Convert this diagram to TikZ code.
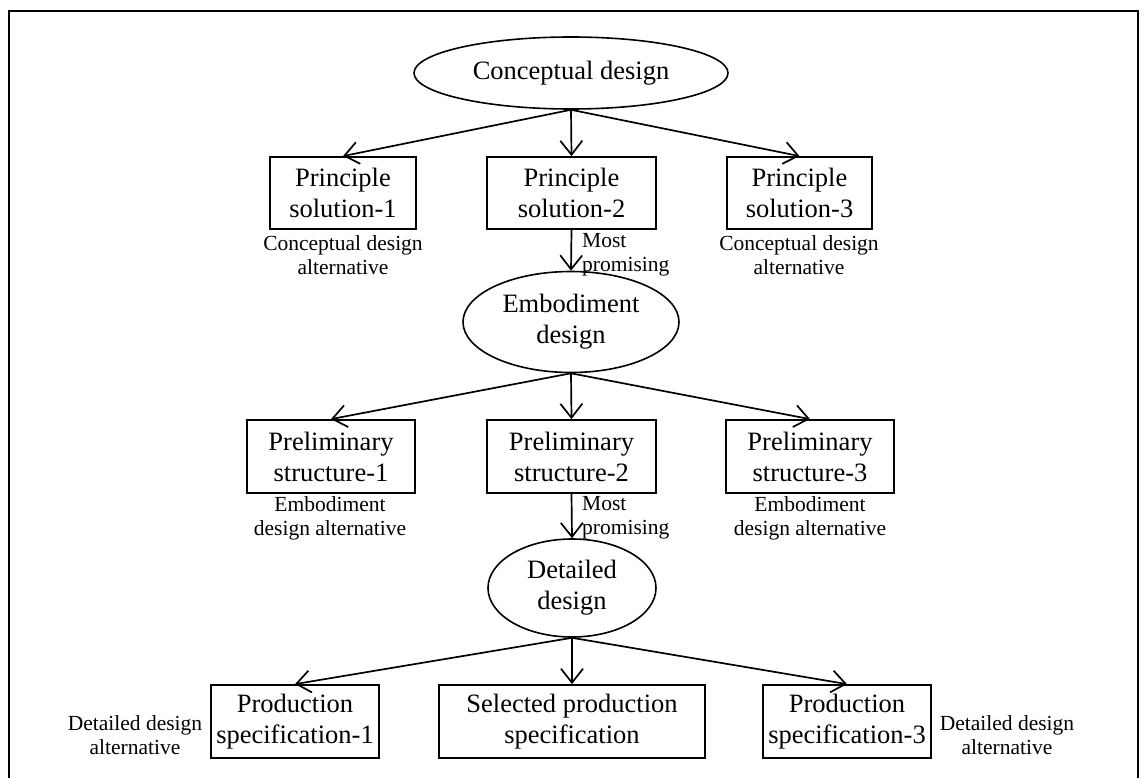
\documentclass[tikz,border=0pt]{standalone}
\usepackage{fontspec}
\setmainfont{Liberation Serif}
\usetikzlibrary{shapes.geometric,arrows.meta}
\begin{document}
\begin{tikzpicture}[x=1pt,y=-1pt,
  box/.style={draw,line width=1.8pt,inner sep=0pt,align=center,
    font=\fontsize{26.5}{31}\selectfont},
  oval/.style={draw,ellipse,line width=1.6pt,inner sep=0pt,align=center,
    font=\fontsize{26.5}{31}\selectfont},
  note/.style={inner sep=0pt,align=center,font=\fontsize{21.5}{24}\selectfont},
  arr/.style={line width=1.7pt,-{Straight Barb[length=14pt,width=22pt,line width=1.7pt]}}]
\useasboundingbox (0,0) rectangle (1146,778);
\draw[line width=2pt] (9,11) rectangle (1138,800);
% level 1
\node[oval,minimum width=314,minimum height=72] (cd) at (571,73) {Conceptual design};
\node[box,minimum width=146,minimum height=72] (p1) at (343,193) {Principle\\solution-1};
\node[box,minimum width=169,minimum height=72] (p2) at (571.5,193) {Principle\\solution-2};
\node[box,minimum width=145,minimum height=72] (p3) at (799.5,193) {Principle\\solution-3};
\node[note] (n1) at (343,255) {Conceptual design\\alternative};
\node[note] (n3) at (799,255) {Conceptual design\\alternative};
\node[note,align=left,anchor=west] (m1) at (582,255) {Most\\promising};
\draw[arr] (cd.south) -- (p1.north);
\draw[arr] (cd.south) -- (p2.north);
\draw[arr] (cd.south) -- (p3.north);
% level 2
\node[oval,minimum width=216,minimum height=101] (ed) at (571,322) {Embodiment\\design};
\draw[arr] (p2.south) -- (ed.north);
\node[box,minimum width=168,minimum height=73] (s1) at (331,456.5) {Preliminary\\structure-1};
\node[box,minimum width=169,minimum height=73] (s2) at (571.5,456.5) {Preliminary\\structure-2};
\node[box,minimum width=168,minimum height=73] (s3) at (810,456.5) {Preliminary\\structure-3};
\node[note] (e1) at (330,518) {Embodiment\\design alternative};
\node[note] (e3) at (810,518) {Embodiment\\design alternative};
\node[note,align=left,anchor=west] (m2) at (582,518) {Most\\promising};
\draw[arr] (ed.south) -- (s1.north);
\draw[arr] (ed.south) -- (s2.north);
\draw[arr] (ed.south) -- (s3.north);
% level 3
\node[oval,minimum width=168,minimum height=98] (dd) at (572,588) {Detailed\\design};
\draw[arr] (s2.south) -- (dd.north);
\node[box,minimum width=168,minimum height=73] (q1) at (295,721.5) {Production\\specification-1};
\node[box,minimum width=266,minimum height=73] (q2) at (572,721.5) {Selected production\\specification};
\node[box,minimum width=168,minimum height=73] (q3) at (847,721.5) {Production\\specification-3};
\node[note] (d1) at (135,735) {Detailed design\\alternative};
\node[note] (d3) at (1007,735) {Detailed design\\alternative};
\draw[arr] (dd.south) -- (q1.north);
\draw[arr] (dd.south) -- (q2.north);
\draw[arr] (dd.south) -- (q3.north);
\end{tikzpicture}
\end{document}
